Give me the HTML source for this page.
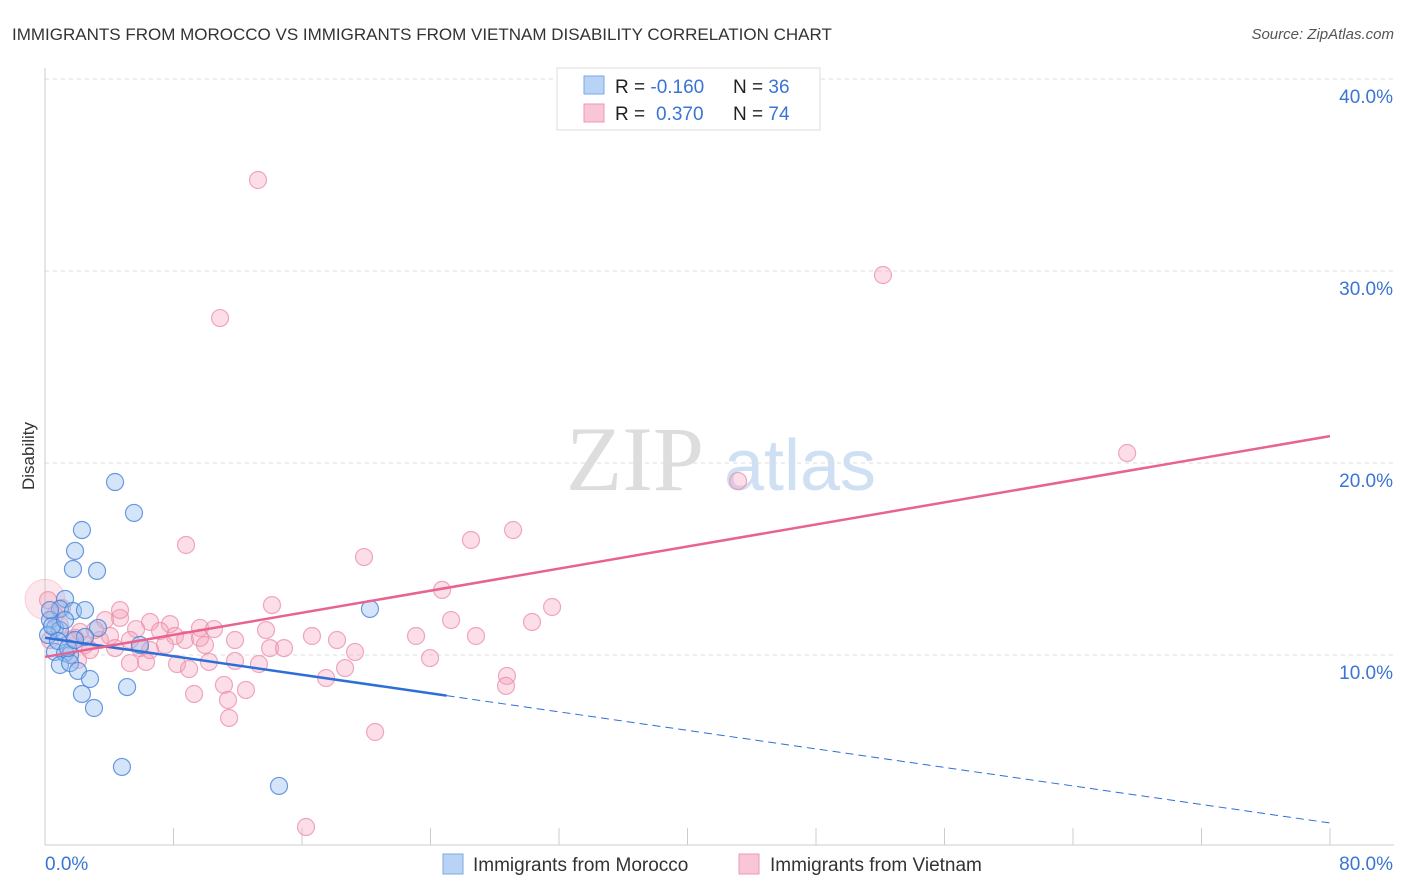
<!DOCTYPE html>
<html><head><meta charset="utf-8"><style>
body{margin:0;background:#fff;font-family:"Liberation Sans",sans-serif;}
svg{display:block}
</style></head><body>
<svg id="chart" width="1406" height="892" xmlns="http://www.w3.org/2000/svg">
<text x="12" y="40" font-size="17" fill="#333">IMMIGRANTS FROM MOROCCO VS IMMIGRANTS FROM VIETNAM DISABILITY CORRELATION CHART</text>
<text x="1394" y="39" font-size="15" fill="#555" font-style="italic" text-anchor="end">Source: ZipAtlas.com</text>
<text x="635" y="490" font-size="92" fill="#ddd" font-family="Liberation Serif,serif" text-anchor="middle">ZIP</text>
<text x="800" y="490" font-size="72" fill="#cfe0f5" text-anchor="middle">atlas</text>
<text x="34" y="456" font-size="17" fill="#333" transform="rotate(-90 34 456)" text-anchor="middle">Disability</text>
<g id="grid"></g><g id="axes"></g><g id="pts"></g><g id="lines"></g>
<g>
<rect x="557" y="68" width="263" height="62" fill="#fff" stroke="#ddd"/>
<rect x="584" y="76" width="20" height="18" fill="#b9d3f5" stroke="#7aaae6"/>
<rect x="584" y="104" width="20" height="18" fill="#f8c6d4" stroke="#ee9ab4"/>
<text x="615" y="93" font-size="19" fill="#222">R = <tspan fill="#3a74d4">-0.160</tspan><tspan x="733">N = </tspan><tspan fill="#3a74d4">36</tspan></text>
<text x="615" y="120" font-size="19" fill="#222">R = <tspan fill="#3a74d4" x="656">0.370</tspan><tspan x="733">N = </tspan><tspan fill="#3a74d4">74</tspan></text>
</g>
<g>
<rect x="443" y="854" width="20" height="20" fill="#b9d3f5" stroke="#7aaae6"/>
<text x="473" y="871" font-size="19" fill="#333">Immigrants from Morocco</text>
<rect x="739" y="854" width="20" height="20" fill="#f8c6d4" stroke="#ee9ab4"/>
<text x="770" y="871" font-size="19" fill="#333">Immigrants from Vietnam</text>
</g>
</svg>
<script>
const xTicks=[0,80];
const yTicks=[10,20,30,40];
const moroccoX=[4.36,5.54,2.30,1.87,1.74,3.24,1.25,0.93,1.74,2.49,20.23,0.31,0.62,0.93,0.19,3.30,2.49,5.91,0.62,1.25,1.56,0.93,1.56,2.05,2.80,2.30,3.05,5.11,4.79,14.57,0.44,0.81,1.43,0.31,1.87,1.25];
const moroccoY=[19.01,17.40,16.51,15.42,14.48,14.38,12.92,12.40,12.29,12.34,12.40,11.82,11.41,11.30,11.04,11.41,10.94,10.52,10.16,10.10,10.00,9.48,9.58,9.17,8.75,7.97,7.24,8.33,4.17,3.18,11.51,10.73,10.36,12.34,10.78,11.82];
const vietnamX=[13.26,52.17,10.90,67.37,43.15,29.14,26.52,8.78,19.86,24.72,31.57,14.13,25.28,30.32,23.10,26.83,16.62,18.18,13.76,9.65,10.52,6.54,7.78,4.67,3.74,5.67,7.16,8.09,5.29,3.42,2.18,0.93,1.56,2.49,3.11,4.05,4.36,5.91,8.72,9.65,14.01,14.88,19.30,23.97,6.29,5.29,8.22,8.97,10.21,11.83,13.32,18.68,17.50,28.76,28.70,11.14,12.51,9.28,11.39,11.46,20.55,16.25,0.19,0.62,1.06,1.87,2.80,7.47,11.83,4.67,6.54,9.96,2.05,0.31];
const vietnamY=[34.74,29.79,27.55,20.52,19.06,16.51,15.99,15.73,15.10,13.39,12.50,12.60,11.82,11.72,10.99,10.99,10.99,10.78,11.30,11.41,11.35,11.72,11.61,11.93,11.82,11.35,11.25,10.99,10.78,10.78,11.20,11.56,10.78,10.52,11.30,10.99,10.36,10.36,10.78,10.89,10.36,10.36,10.16,9.84,9.64,9.58,9.53,9.27,9.64,9.69,9.53,9.32,8.80,8.91,8.39,8.44,8.18,7.97,7.66,6.72,5.99,1.04,12.86,12.08,12.45,10.89,10.26,10.52,10.78,12.34,10.26,10.52,9.74,10.78];
const moroccoTrend=[10.9,1.25];
const vietnamTrend=[9.9,21.4];
const NS="http://www.w3.org/2000/svg";
const X0=45,X1=1330,Y0=847,PX=192/10;
const sx=v=>X0+(v-xTicks[0])/(xTicks[1]-xTicks[0])*(X1-X0);
const sy=v=>Y0-v*PX;
function mk(tag,at,parent){const e=document.createElementNS(NS,tag);for(const k in at)e.setAttribute(k,at[k]);parent.appendChild(e);return e;}
const grid=document.getElementById('grid'),axes=document.getElementById('axes'),pts=document.getElementById('pts'),lines=document.getElementById('lines');
yTicks.forEach(t=>{
 const l=mk('line',{x1:45,x2:1394,y1:sy(t),y2:sy(t),stroke:'#ddd','stroke-dasharray':'4 4'},grid);
 
 
 const tx=mk('text',{x:1393,y:sy(t)+24,'font-size':19,fill:'#3a74d4','text-anchor':'end'},grid);
 tx.textContent=t.toFixed(1)+'%';
 
 
});
const la=mk('line',{x1:45,x2:45,y1:68,y2:845,stroke:'#ccc'},axes);


const lb=mk('line',{x1:45,x2:1394,y1:845,y2:845,stroke:'#ccc'},axes);


for(let i=0;i<=10;i++){
 const v=xTicks[0]+i*(xTicks[1]-xTicks[0])/10;
 const tk=mk('line',{x1:sx(v),x2:sx(v),y1:828,y2:845,stroke:'#ccc'},axes);
 
 
}
xTicks.forEach((t,i)=>{
 const tx=mk('text',{x:i?1393:45,y:870,'font-size':19,fill:'#3a74d4','text-anchor':i?'end':'start'},axes);
 tx.textContent=t.toFixed(1)+'%';
 
 
});
const big=mk('circle',{cx:sx(0),cy:sy(12.9),r:20,fill:'rgba(244,160,185,0.25)',stroke:'rgba(240,150,175,0.4)'},pts);


vietnamX.forEach((x,i)=>{
 const c=mk('circle',{cx:sx(x),cy:sy(vietnamY[i]),r:8.5,fill:'rgba(244,160,185,0.35)',stroke:'rgba(236,140,170,0.75)','stroke-width':1.2},pts);
 
 
});
moroccoX.forEach((x,i)=>{
 const c=mk('circle',{cx:sx(x),cy:sy(moroccoY[i]),r:8.5,fill:'rgba(150,190,240,0.4)',stroke:'rgba(70,130,215,0.8)','stroke-width':1.2},pts);
 
 
});
const mAt=x=>moroccoTrend[0]+(moroccoTrend[1]-moroccoTrend[0])*(x-xTicks[0])/(xTicks[1]-xTicks[0]);
const xs=25;
const m1=mk('line',{x1:sx(0),y1:sy(mAt(0)),x2:sx(xs),y2:sy(mAt(xs)),stroke:'#2d6fd6','stroke-width':2.5},lines);


const m2=mk('line',{x1:sx(xs),y1:sy(mAt(xs)),x2:sx(80),y2:sy(mAt(80)),stroke:'#2d6fd6','stroke-width':1,'stroke-dasharray':'8 5'},lines);


const v1=mk('line',{x1:sx(0),y1:sy(vietnamTrend[0]),x2:sx(80),y2:sy(vietnamTrend[1]),stroke:'#e8638f','stroke-width':2.5},lines);


</script>
</body></html>
